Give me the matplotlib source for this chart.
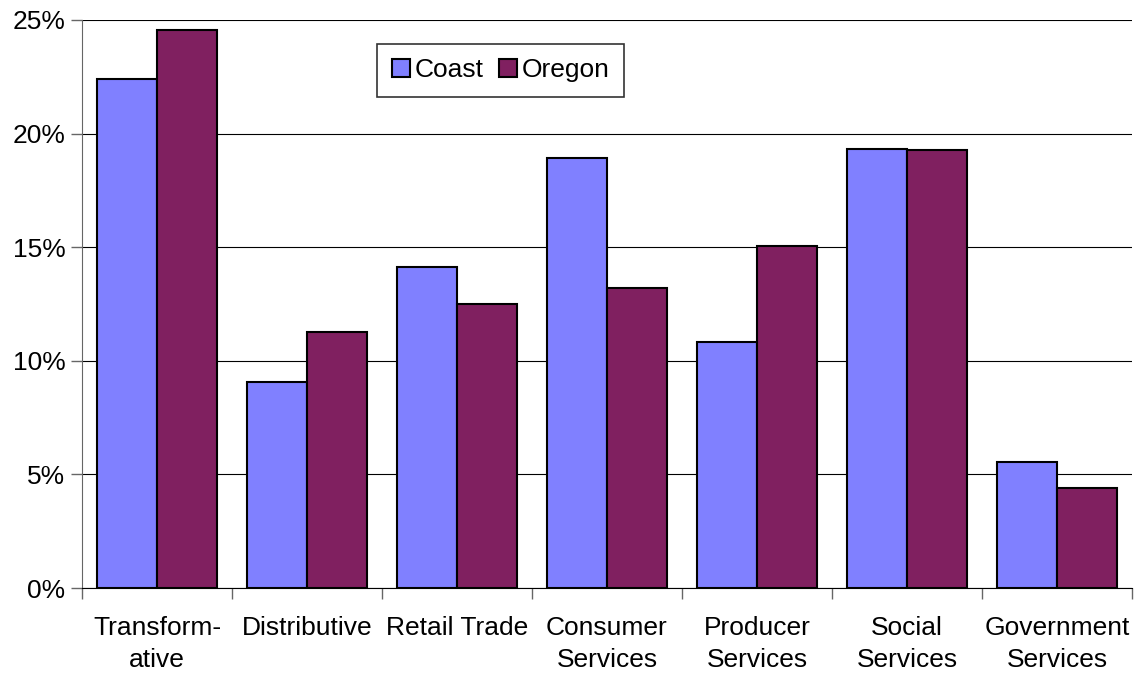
import numpy as np
import matplotlib.pyplot as plt
from matplotlib.ticker import FuncFormatter, FixedLocator

plt.rcParams['font.family'] = ['Liberation Sans', 'DejaVu Sans']

categories = ["Transform-\native", "Distributive", "Retail Trade", "Consumer\nServices",
              "Producer\nServices", "Social\nServices", "Government\nServices"]
coast = [22.4, 9.07, 14.13, 18.93, 10.83, 19.32, 5.55]
oregon = [24.56, 11.27, 12.5, 13.2, 15.05, 19.28, 4.4]

fig = plt.figure(figsize=(11.37, 6.73), dpi=100)
ax = fig.add_axes([0.0721, 0.1263, 0.9235, 0.844])

x = np.arange(len(categories))
w = 0.4
ax.bar(x - w / 2, coast, w, color="#8080FF", edgecolor="black", linewidth=1.5, label="Coast", zorder=3)
ax.bar(x + w / 2, oregon, w, color="#802060", edgecolor="black", linewidth=1.5, label="Oregon", zorder=3)

ax.set_xlim(-0.5, len(categories) - 0.5)
ax.set_ylim(0, 25)
ax.set_yticks(np.arange(0, 26, 5))
ax.yaxis.set_major_formatter(FuncFormatter(lambda v, p: f"{v:.0f}%"))
ax.yaxis.grid(True, color="black", linewidth=0.8, zorder=0)

ax.set_xticks(x)
ax.set_xticklabels(categories, linespacing=1.45)
ax.xaxis.set_minor_locator(FixedLocator(np.arange(-0.5, len(categories), 1)))
ax.tick_params(axis="x", which="major", length=0, pad=20, labelsize=19)
ax.tick_params(axis="x", which="minor", length=8, width=1, color="#666666")
ax.tick_params(axis="y", length=8, width=1, color="#666666", labelsize=19, pad=4)

for s in ["top", "right"]:
    ax.spines[s].set_visible(False)
ax.spines["left"].set_color("#666666")
ax.spines["bottom"].set_color("black")

leg = ax.legend(loc="upper left", bbox_to_anchor=(0.2686, 0.981), ncol=2, fontsize=19,
                frameon=True, fancybox=False, edgecolor="black", handlelength=0.7,
                handleheight=0.7, handletextpad=0.15, columnspacing=0.6, borderpad=0.55)
leg.get_frame().set_linewidth(1.2)

fig.savefig("out.png", dpi=100)
